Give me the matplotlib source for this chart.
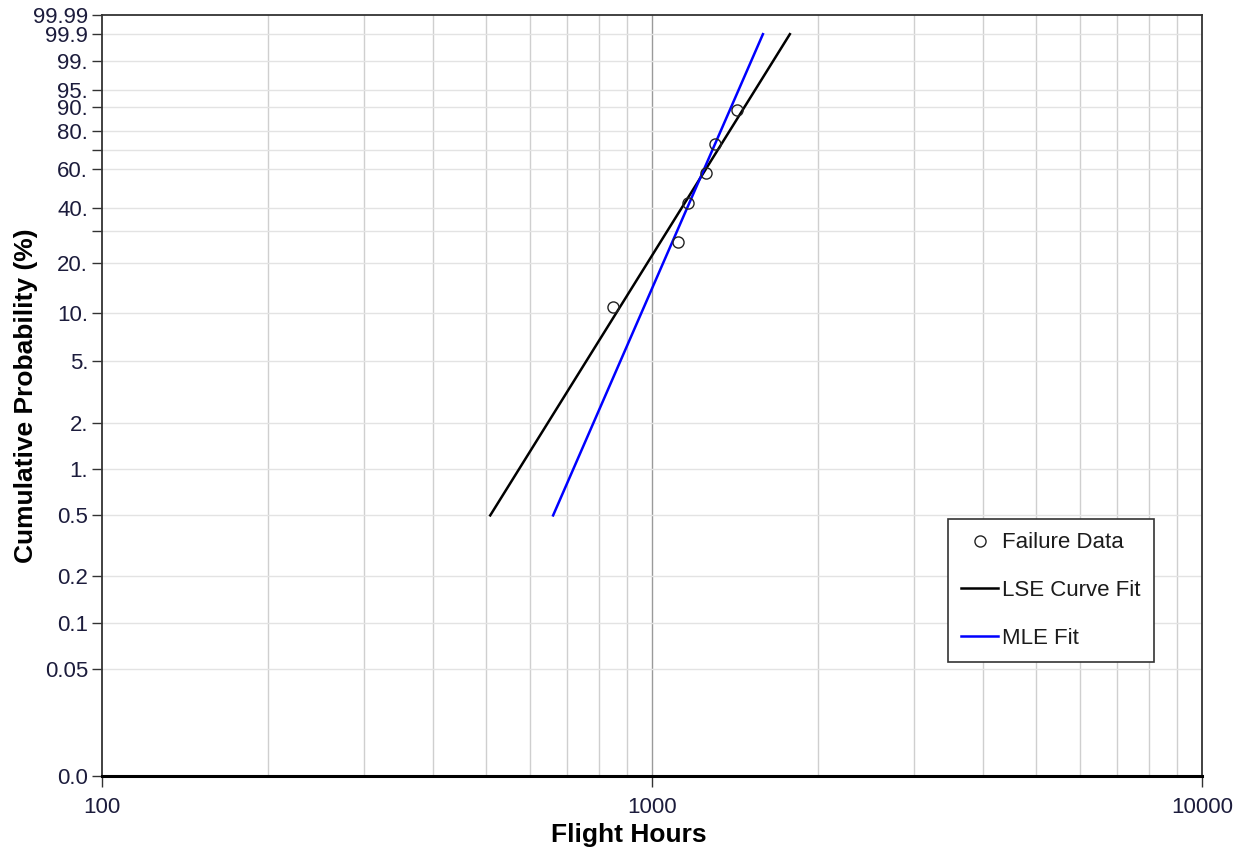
import numpy as np
import matplotlib.pyplot as plt
from matplotlib.ticker import FixedLocator, FixedFormatter, NullFormatter

plt.rcParams['font.family'] = ['Liberation Sans', 'DejaVu Sans']

# failure data (flight hours, median rank %)
failure_hours = [849, 1115, 1163, 1254, 1301, 1427]
failure_probs = [10.9, 26.4, 42.2, 57.8, 73.4, 89.1]
# fitted Weibull lines, end points
lse_hours = [508, 1781]
lse_probs = [0.5, 99.9]
mle_hours = [661, 1591]
mle_probs = [0.5, 99.9]

prob_ticks = [0.01, 0.05, 0.1, 0.2, 0.5, 1, 2, 5, 10, 20, 40, 60, 80, 90, 95, 99, 99.9, 99.99]
prob_labels = ['0.0', '0.05', '0.1', '0.2', '0.5', '1.', '2.', '5.', '10.', '20.',
               '40.', '60.', '80.', '90.', '95.', '99.', '99.9', '99.99']
minor_prob_ticks = [30, 70]
hour_ticks = [100, 1000, 10000]
hour_minor = [200, 300, 400, 500, 600, 700, 800, 900,
              2000, 3000, 4000, 5000, 6000, 7000, 8000, 9000]


def weibull_fwd(p):
    p = np.clip(np.asarray(p, dtype=float), 1e-9, 100 - 1e-9)
    return np.log(-np.log(1 - p / 100.0))


def weibull_inv(w):
    return 100.0 * (1 - np.exp(-np.exp(np.asarray(w, dtype=float))))


fig = plt.figure(figsize=(12.44, 8.49), dpi=100)
ax = fig.add_axes([102 / 1244, 73 / 849, 1100 / 1244, 761 / 849])

ax.set_xscale('log')
ax.set_yscale('function', functions=(weibull_fwd, weibull_inv))
ax.set_xlim(100, 10000)
ax.set_ylim(0.01, 99.99)

# grid
for h in hour_minor:
    ax.axvline(h, color='#cfcfcf', lw=1.0, zorder=0)
ax.axvline(1000, color='#9a9a9a', lw=1.0, zorder=0)
for p in prob_ticks[1:-1] + minor_prob_ticks:
    ax.axhline(p, color='#e3e3e3', lw=1.0, zorder=0)

ax.plot(lse_hours, lse_probs, color='black', lw=1.8, label='LSE Curve Fit', zorder=3)
ax.plot(mle_hours, mle_probs, color='#0000ff', lw=1.8, label='MLE Fit', zorder=3)
ax.plot(failure_hours, failure_probs, 'o', mfc='none', mec='#222222', mew=1.0, ms=8,
        label='Failure Data', zorder=4)

ax.yaxis.set_major_locator(FixedLocator(prob_ticks))
ax.yaxis.set_major_formatter(FixedFormatter(prob_labels))
ax.yaxis.set_minor_locator(FixedLocator(minor_prob_ticks))
ax.yaxis.set_minor_formatter(NullFormatter())
ax.xaxis.set_major_locator(FixedLocator(hour_ticks))
ax.xaxis.set_major_formatter(FixedFormatter([str(h) for h in hour_ticks]))
ax.xaxis.set_minor_locator(FixedLocator([]))

tick_color = '#1c1c3c'
ax.tick_params(axis='y', which='both', direction='out', length=7, width=1,
               color='#333333', labelsize=16, labelcolor=tick_color, pad=3)
ax.tick_params(axis='x', which='major', direction='out', length=8, width=1,
               color='#333333', labelsize=16, labelcolor=tick_color, pad=7)

for side in ['left', 'top', 'right']:
    ax.spines[side].set_color('#333333')
    ax.spines[side].set_linewidth(1.3)
ax.spines['bottom'].set_color('black')
ax.spines['bottom'].set_linewidth(2.2)

ax.set_xlabel('Flight Hours', fontsize=19, fontweight='bold', color='black')
ax.xaxis.set_label_coords(0.479, -0.062)
ax.set_ylabel('Cumulative Probability (%)', fontsize=19, fontweight='bold', color='black')
ax.yaxis.set_label_coords(-0.058, 0.5)

handles, labels = ax.get_legend_handles_labels()
order = [2, 0, 1]
leg = ax.legend([handles[i] for i in order], [labels[i] for i in order],
                loc='upper left', bbox_to_anchor=(948 / 1244, 1 - 519 / 849),
                bbox_transform=fig.transFigure, fancybox=False, framealpha=1,
                edgecolor='#333333', fontsize=16, labelspacing=1.2,
                handlelength=1.65, handletextpad=0.18, borderpad=0.6,
                borderaxespad=0)
leg.get_frame().set_linewidth(1.2)
for t in leg.get_texts():
    t.set_color('#1c1c1c')

fig.savefig('out.png', dpi=100)
